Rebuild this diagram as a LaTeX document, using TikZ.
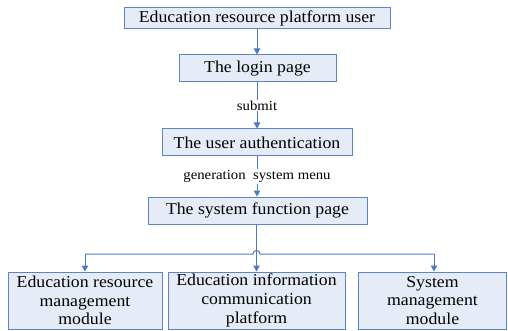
\documentclass[tikz,border=0pt]{standalone}
\usepackage{fontspec}
\setmainfont{Liberation Serif}[FakeStretch=1.07]
\usetikzlibrary{arrows.meta,calc}
\definecolor{boxfill}{RGB}{230,236,247}
\definecolor{boxline}{RGB}{92,132,200}
\definecolor{arrcol}{RGB}{74,122,200}
\begin{document}
\begin{tikzpicture}[x=1pt,y=1pt,
  box/.style={draw=boxline,fill=boxfill,line width=1pt,inner sep=0pt,align=center,
    font=\fontsize{16.6}{18.8}\selectfont},
  conn/.style={draw=arrcol,line width=1pt},
  arr/.style={conn,-{Triangle[length=6pt,width=6.5pt]}},
  lbl/.style={fill=white,inner sep=1pt,font=\fontsize{13.8}{16}\selectfont}]
\useasboundingbox (0,0) rectangle (508,-331);
\node[box,minimum width=266pt,minimum height=21pt] (b1) at (257,-18.5) {Education resource platform user};
\node[box,minimum width=157pt,minimum height=27pt] (b2) at (257.5,-68.5) {The login page};
\node[box,minimum width=190pt,minimum height=27pt] (b3) at (257,-142.5) {The user authentication};
\node[box,minimum width=219pt,minimum height=27pt] (b4) at (257.5,-210.5) {The system function page};
\node[box,minimum width=154pt,minimum height=57pt] (b5) at (85,-300.5) {Education resource\\management\\module};
\node[box,minimum width=177pt,minimum height=57pt] (b6) at (256.5,-300.5) {Education information\\communication\\platform};
\node[box,minimum width=148.5pt,minimum height=57pt] (b7) at (432.5,-300.5) {System\\management\\module};
\draw[arr] (b1.south -| 257,0) -- (b2.north -| 257,0);
\draw[arr] (b2.south -| 257,0) -- node[lbl] (l1) {submit} (b3.north -| 257,0);
\draw[arr] (b3.south -| 257,0) -- node[lbl] (l2) {generation\ \ system menu} (b4.north -| 257,0);
\draw[arr] (b4.south -| b6.north) -- (b6.north);
\coordinate (hl) at (85,-254);
\coordinate (hr) at (434,-254);
\draw[conn] (hl) -- ($(b6.north |- hl)+(-3.5,0)$) arc (180:0:3.5) -- (hr);
\draw[arr] (hl) -- (hl |- b5.north);
\draw[arr] (hr) -- (hr |- b7.north);
\end{tikzpicture}
\end{document}
